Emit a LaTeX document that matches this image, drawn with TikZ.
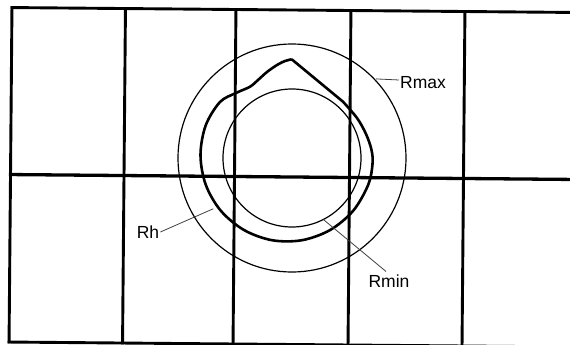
\documentclass[tikz,border=0pt]{standalone}
\usepackage{fontspec}
\setmainfont{Liberation Sans}
\usetikzlibrary{arrows.meta,positioning,calc}

\begin{document}
\begin{tikzpicture}[x=1pt,y=-1pt,
    grid/.style={line width=2.9pt,line cap=rect},
    ring/.style={draw,circle,line width=1.2pt,inner sep=0pt,outer sep=0pt},
    profile/.style={line width=2.6pt,line join=round},
    leader/.style={line width=0.8pt,black!75},
    lbl/.style={font=\fontsize{17.5}{20}\selectfont,inner sep=1pt}]
  \useasboundingbox (0,0) rectangle (570,345);
  % grid, slightly skewed as in the scan
  \begin{scope}[rotate around={-0.5:(292,176)}]
    \draw[grid] (10.5,10) -- (580,10);
    \draw[grid] (10.5,344.5) -- (580,344.5);
    \draw[grid,line width=3.3pt] (10.5,177) -- (580,177);
    \foreach \gx in {10.5,124,234.5,349.5,463.5}
      \draw[grid] (\gx,10) -- (\gx,344.5);
  \end{scope}
  \node[ring,minimum size=228pt] (rmax) at (292,158) {};
  \node[ring,minimum size=138pt] (rmin) at (292,158) {};
  \draw[profile] (291.7,59.3) -- plot[smooth,tension=0.55] coordinates
    {(343,101.7)(357,118)(366,134)(371.5,150)(372.5,164)(368.3,184.6)
    (353.3,210.6)(330.3,229.9)(302,240.2)(272,240.2)(243.8,229.9)
    (220.7,210.6)(205.7,184.6)(200.5,155)(205.7,125.4)(220,102)
    (236,93)(250,86.7)(258,80)(267,72)(277,65)(285,61)(291.7,59.3)};
  \coordinate (rhpt) at (215,208);
  \node[lbl] (rmaxlbl) at (423,83) {Rmax};
  \node[lbl] (rhlbl) at (148,232) {Rh};
  \node[lbl] (rminlbl) at (389,281) {Rmin};
  \draw[leader,-{Stealth[length=5pt,width=1.6pt]}] ([yshift=3pt]rmaxlbl.west) -- (rmax.44);
  \draw[leader,-{Stealth[length=5pt,width=1.6pt]}] (rhlbl.east) -- (rhpt);
  \draw[leader] (rminlbl.north) ++(-3pt,2pt) -- (rmin.-63);
\end{tikzpicture}
\end{document}
